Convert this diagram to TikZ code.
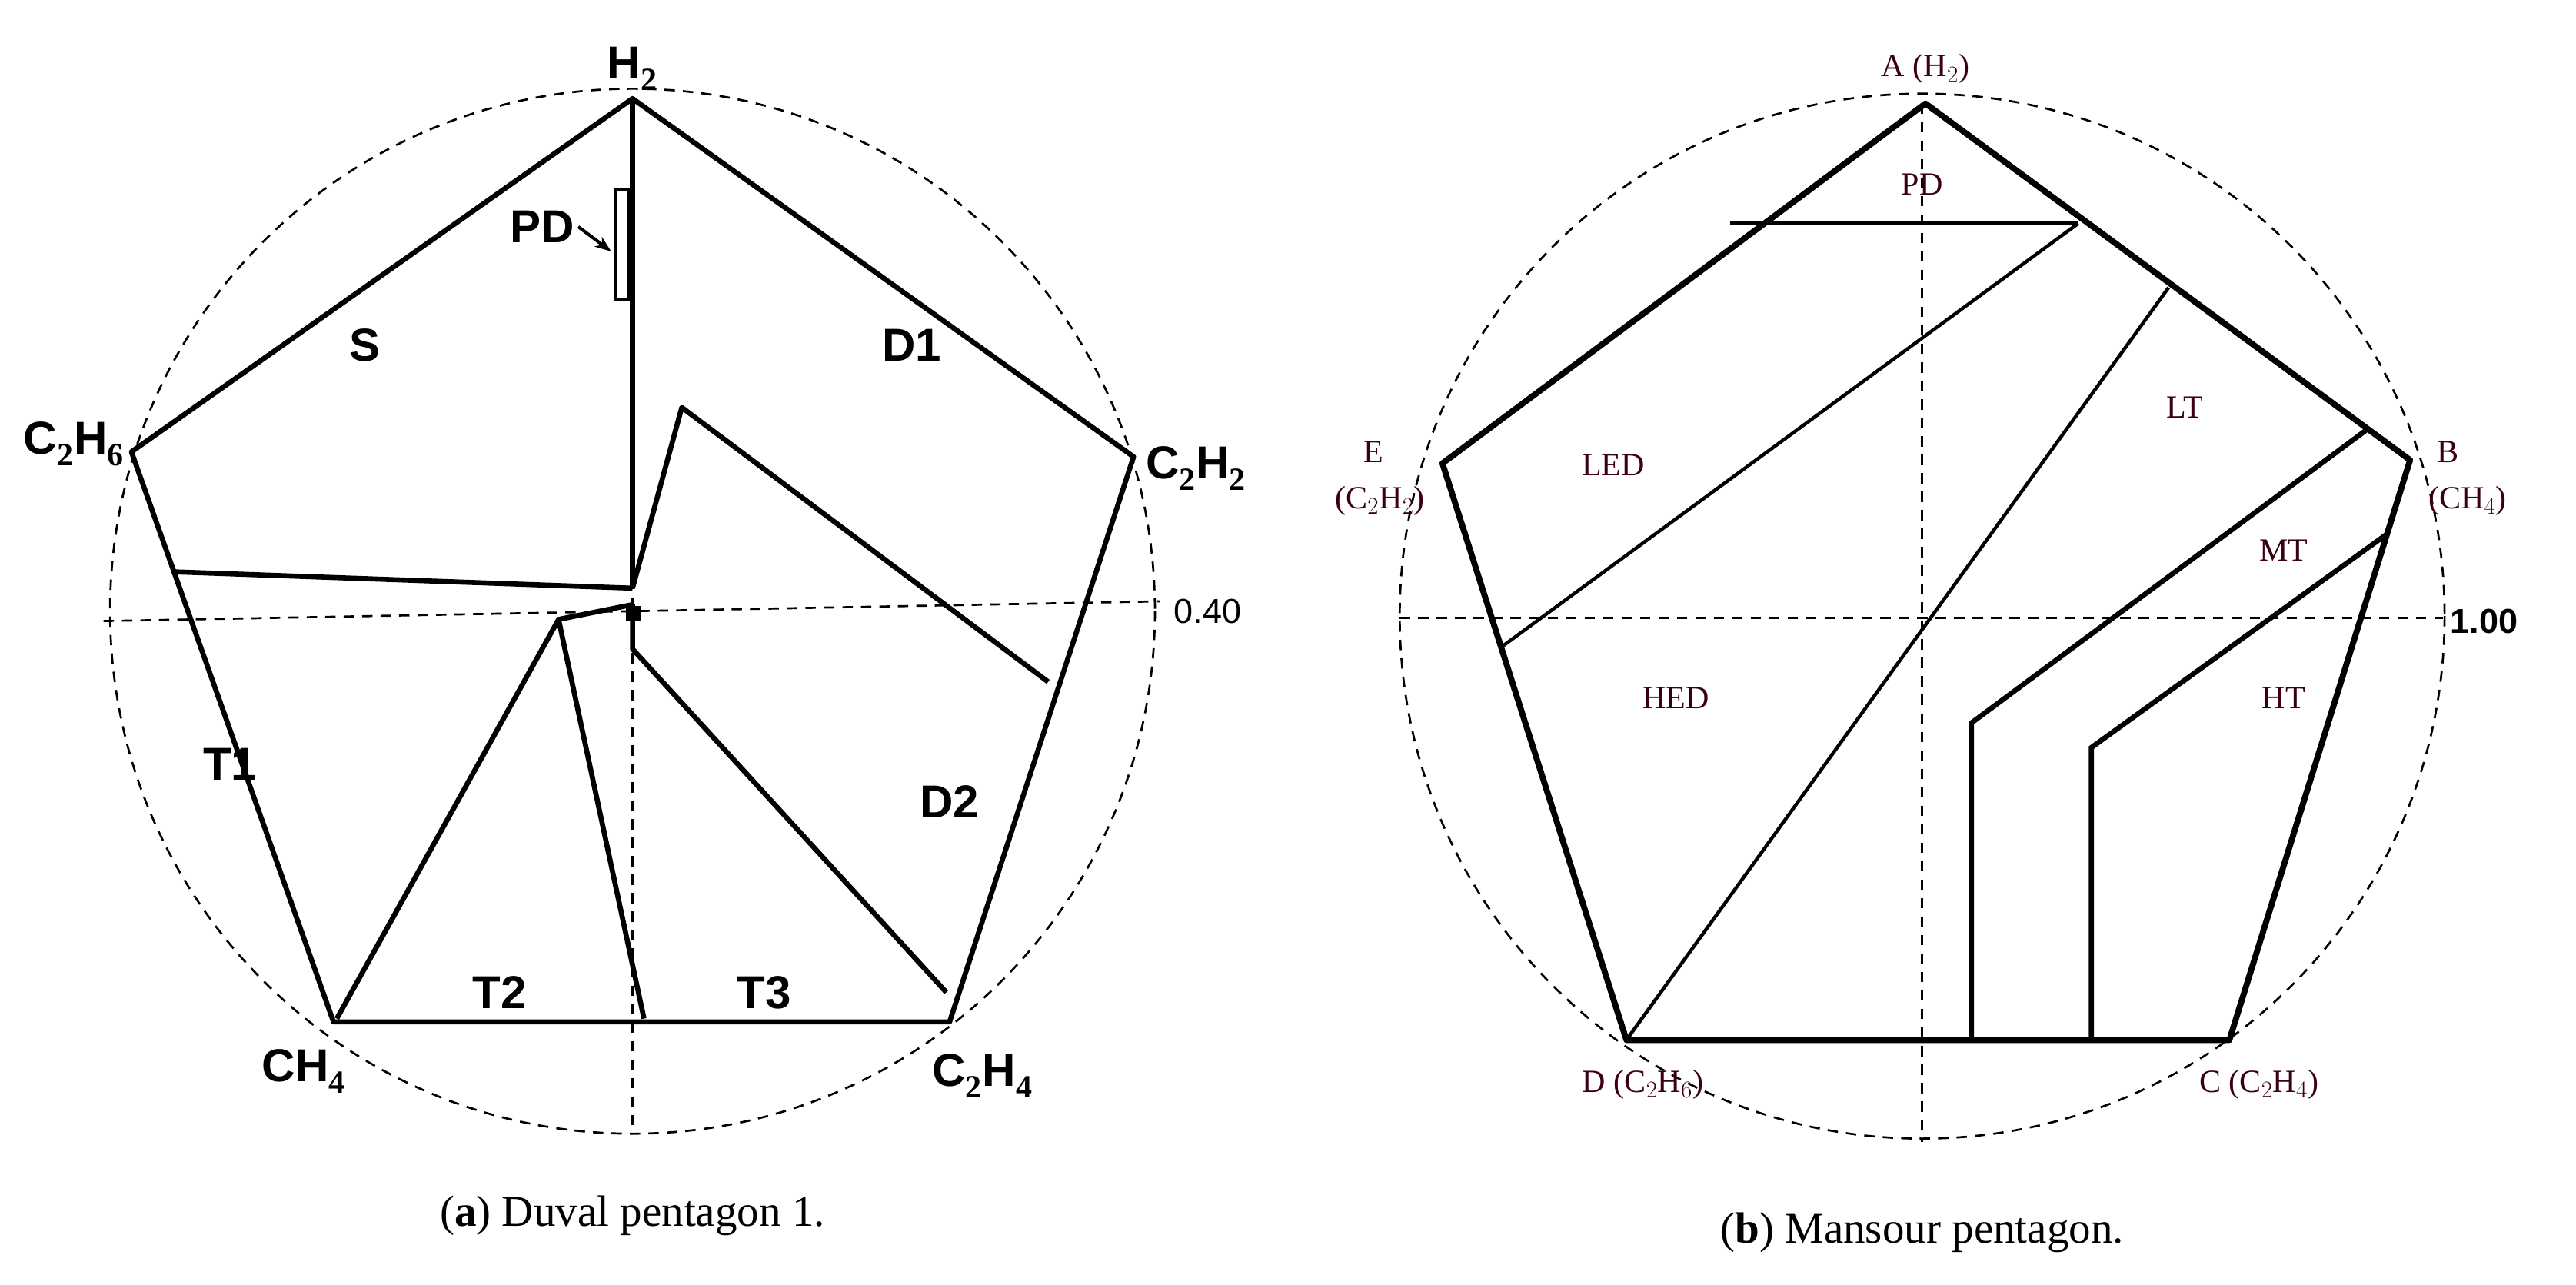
\documentclass[tikz,border=0pt]{standalone}
\usepackage{fontspec}
\setmainfont{Liberation Serif}
\newfontfamily\sansb{Liberation Sans}
\usetikzlibrary{arrows.meta}
\begin{document}
\begin{tikzpicture}[x=0.05cm,y=-0.05cm,
  sol/.style={line width=4.4pt,line join=round},
  thn/.style={line width=3pt},
  dsh/.style={line width=1.8pt,dash pattern=on 9pt off 7pt},
  lab/.style={font=\sansb\bfseries\fontsize{40}{44}\selectfont},
  rlab/.style={font=\fontsize{28}{32}\selectfont,text=black!70!purple},
  captxt/.style={font=\fontsize{38}{42}\selectfont}]
\useasboundingbox (0,0) rectangle (1568,782);
% ---------- left ----------
\draw[dsh] (385,372) circle (318);
\draw[dsh] (385,60) -- (385,688);
\draw[dsh] (63,378) -- (706,366);
\coordinate (H) at (385,60); \coordinate (E6) at (80,275); \coordinate (A2) at (690,278);
\coordinate (M) at (203,622); \coordinate (E4) at (578,622);
\draw[sol] (H) -- (A2) -- (E4) -- (M) -- (E6) -- cycle;
\coordinate (c) at (385,358);
\draw[sol] (H) -- (c);
\draw[sol] (105,348) -- (c);
\draw[sol] (c) -- (415,248) -- (638,415);
\draw[sol] (385,368) -- (340,377);
\draw[sol] (385,368) -- (385,395) -- (576,604);
\draw[sol] (205,620) -- (340,377) -- (392,620);
\fill (381,369) rectangle +(9,9);
\draw[line width=2.4pt] (375,115) rectangle (383,182);
\node[lab] (pd) at (330,138) {PD};
\coordinate (pdt) at (372,153);
\draw[line width=2.8pt,-{Stealth[length=14pt]}] (pd.east) -- (pdt);
\node[lab] (s) at (222,210) {S};
\node[lab] (d1) at (555,210) {D1};
\node[lab] (t1) at (140,465) {T1};
\node[lab] (d2) at (578,488) {D2};
\node[lab] (t2) at (304,604) {T2};
\node[lab] (t3) at (465,604) {T3};
\node[lab] at (385,42) {H$_\mathbf{2}$};
\node[lab] at (45,270) {C$_\mathbf{2}$H$_\mathbf{6}$};
\node[lab] at (728,285) {C$_\mathbf{2}$H$_\mathbf{2}$};
\node[lab] at (185,652) {CH$_\mathbf{4}$};
\node[lab] at (598,655) {C$_\mathbf{2}$H$_\mathbf{4}$};
\node[font=\sansb\fontsize{30}{34}\selectfont] at (735,372) {0.40};
\node[captxt] at (385,740) {(\textbf{a}) Duval pentagon 1.};
% ---------- right ----------
\draw[dsh] (1170,375) circle (318);
\draw[dsh] (1170,63) -- (1170,695);
\draw[dsh] (852,376) -- (1487,376);
\coordinate (A) at (1172,63); \coordinate (B) at (1467,280); \coordinate (C) at (1357,633);
\coordinate (D) at (990,633); \coordinate (E) at (878,282);
\draw[line width=5.2pt,line join=round] (A) -- (B) -- (C) -- (D) -- (E) -- cycle;
\draw[thn] (1053,136) -- (1265,136);
\draw[thn] (915,393) -- (1265,136);
\draw[thn] (D) -- (1320,175);
\draw[line width=4.4pt] (1200,633) -- (1200,440) -- (1440,262);
\draw[line width=4.4pt] (1273,633) -- (1273,455) -- (1453,325);
\node[rlab] at (1172,42) {A (H$_2$)};
\node[rlab] at (1170,112) {PD};
\node[rlab] at (836,275) {E};
\node[rlab] at (840,305) {(C$_2$H$_2$)};
\node[rlab] at (1490,275) {B};
\node[rlab] at (1502,305) {(CH$_4$)};
\node[rlab] at (982,283) {LED};
\node[rlab] at (1330,248) {LT};
\node[rlab] at (1390,335) {MT};
\node[rlab] at (1020,425) {HED};
\node[rlab] at (1390,425) {HT};
\node[rlab] at (1000,660) {D (C$_2$H$_6$)};
\node[rlab] at (1375,660) {C (C$_2$H$_4$)};
\node[font=\sansb\bfseries\fontsize{30}{34}\selectfont] at (1512,378) {1.00};
\node[captxt] at (1170,750) {(\textbf{b}) Mansour pentagon.};
\end{tikzpicture}
\end{document}
